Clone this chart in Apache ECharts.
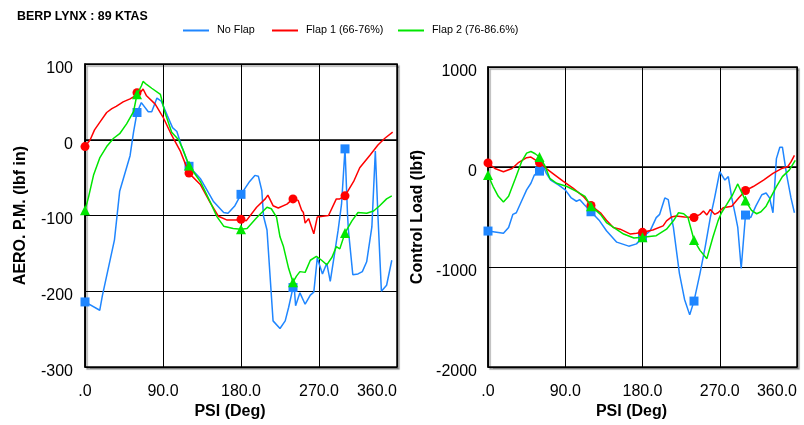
<!DOCTYPE html>
<html>
<head>
<meta charset="utf-8">
<script src="https://cdn.jsdelivr.net/npm/echarts@6/dist/echarts.min.js"></script>
<style>
html,body{margin:0;padding:0;background:#fff;}
#chart{width:804px;height:425px;}
</style>
</head>
<body>
<div id="chart"></div>
<script>
// ---------- DATA ----------
const TITLE = 'BERP LYNX : 89 KTAS';
const SERIES_NAMES = ['No Flap', 'Flap 1 (66-76%)', 'Flap 2 (76-86.6%)'];
const PSI_TICKS = [0, 90, 180, 270, 360];
const MARKER_PSI = [0, 60, 120, 180, 240, 300];
const AERO_TICKS = [-300, -200, -100, 0, 100];
const LOAD_TICKS = [-2000, -1000, 0, 1000];

// Left chart: AERO. P.M. (lbf in)
const AERO_NOFLAP_PSI = [0,17,20,34,37,40,52,56,60,65,67,73,77,83,88,95,101,106,111,117,120,133,148,160,165,173,180,190,196,200,204,206,210,217,225,231,235,240,241,243,248,254,260,264,268,274,279,283,288,292,296,300,303,304,309,315,320,325,331,335,338,342,348,354];
const AERO_NOFLAP_VAL = [-214,-225,-206,-132,-100,-68,-21,10,36,49,50,37,37,55,51,32,16,11,-7,-25,-35,-51,-81,-96,-97,-87,-72,-55,-47,-48,-67,-101,-119,-239,-249,-239,-221,-195,-188,-219,-202,-217,-205,-201,-156,-177,-163,-187,-150,-120,-85,-12,-101,-120,-178,-177,-174,-161,-115,-15,-100,-200,-192,-159];

const AERO_FLAP1_PSI = [0,6,11,17,25,31,36,44,52,58,60,65,67,71,81,90,100,110,120,133,144,154,164,175,180,186,198,208,211,217,223,233,240,246,250,252,254,258,260,264,268,281,290,294,300,310,317,329,338,346,355];
const AERO_FLAP1_VAL = [-9,0,13,23,36,41,44,50,54,58,62,64,67,58,47,30,6,-15,-44,-59,-82,-101,-106,-106,-105,-107,-89,-78,-73,-87,-90,-85,-78,-80,-93,-96,-110,-104,-106,-124,-102,-100,-78,-78,-74,-55,-37,-20,-7,2,10];

const AERO_FLAP2_PSI = [0,4,10,17,25,33,40,48,56,60,65,67,71,77,87,92,100,108,113,120,133,144,152,160,171,180,187,198,210,215,221,225,229,235,240,244,248,254,260,267,273,279,285,290,294,300,308,315,325,333,340,348,354];
const AERO_FLAP2_VAL = [-93,-76,-46,-24,-9,2,8,21,37,60,71,77,73,68,60,37,10,0,-13,-34,-55,-81,-101,-114,-117,-118,-117,-103,-89,-91,-102,-128,-141,-170,-188,-180,-174,-175,-159,-154,-159,-165,-155,-141,-144,-123,-107,-96,-97,-94,-87,-78,-74];

// Right chart: Control Load (lbf)
const LOAD_NOFLAP_PSI = [0,18,24,29,33,39,45,50,54,60,64,68,73,82,90,97,103,107,112,120,130,138,150,164,173,180,189,196,200,206,210,213,216,223,229,235,240,247,253,259,264,270,276,280,284,288,291,295,300,306,312,319,324,328,332,336,340,343,348,353,357];
const LOAD_NOFLAP_VAL = [-640,-663,-604,-473,-457,-342,-228,-162,-80,-41,18,-64,-130,-179,-228,-309,-342,-326,-375,-447,-538,-637,-751,-791,-768,-705,-636,-506,-473,-309,-326,-473,-604,-1063,-1324,-1478,-1340,-1063,-800,-506,-309,-47,-130,-96,-309,-473,-604,-1013,-480,-506,-391,-277,-260,-309,-457,84,198,198,-80,-309,-457];

const LOAD_FLAP1_PSI = [0,8,18,28,35,45,50,56,60,68,78,87,99,111,120,131,138,146,154,166,173,180,192,204,208,214,219,229,240,247,251,255,259,264,268,274,284,292,300,309,321,332,342,349,353,357];
const LOAD_FLAP1_VAL = [41,-15,-47,-15,41,93,100,67,44,-15,-80,-139,-211,-293,-385,-457,-532,-604,-621,-670,-663,-653,-630,-588,-538,-499,-489,-499,-505,-473,-440,-479,-424,-473,-457,-408,-391,-309,-235,-195,-130,-64,-15,2,51,116];

const LOAD_FLAP2_PSI = [0,6,12,18,24,32,39,45,50,55,60,66,72,80,92,103,113,120,131,138,158,170,180,196,208,216,222,228,233,240,247,255,262,268,272,278,285,291,295,300,307,313,318,324,330,336,343,351,358];
const LOAD_FLAP2_VAL = [-80,-195,-293,-349,-293,-113,51,139,155,133,100,18,-113,-162,-195,-244,-293,-391,-473,-555,-670,-709,-702,-686,-621,-538,-457,-467,-506,-730,-833,-916,-702,-538,-457,-375,-277,-169,-244,-335,-434,-467,-447,-391,-293,-195,-96,-31,67];

// ---------- STYLE ----------
const COLORS = ['#1f86ff', '#ff0000', '#00e600'];
const SYMBOLS = ['rect', 'circle', 'triangle'];
const SYMBOL_SIZES = [9, 9, 10];
const FONT = "'Liberation Sans', Arial, sans-serif";

function zip(xs, ys) { return xs.map((x, i) => [x, ys[i]]); }

function makeSeries(idx, grid, psi, vals) {
  return {
    name: SERIES_NAMES[idx],
    type: 'line',
    xAxisIndex: grid, yAxisIndex: grid,
    data: zip(psi, vals),
    color: COLORS[idx],
    lineStyle: { width: 1.5, color: COLORS[idx] },
    itemStyle: { color: COLORS[idx], borderWidth: 0 },
    symbol: SYMBOLS[idx],
    showSymbol: true,
    showAllSymbol: true,
    symbolSize: function (v) { return MARKER_PSI.indexOf(v[0]) >= 0 ? SYMBOL_SIZES[idx] : 0; },
    emphasis: { disabled: true },
    animation: false,
    z: 2 + idx
  };
}

function xAxisDef(gridIndex) {
  return {
    type: 'value', gridIndex: gridIndex, min: PSI_TICKS[0], max: PSI_TICKS[PSI_TICKS.length - 1], interval: 90,
    name: 'PSI (Deg)', nameLocation: 'middle', nameGap: 35,
    nameTextStyle: { fontFamily: FONT, fontWeight: 'bold', fontSize: 16, color: '#000', padding: [0, 22, 0, 0] },
    axisLine: { show: true, lineStyle: { color: '#000', width: 1.5 } },
    axisTick: { show: false },
    axisLabel: {
      fontFamily: FONT, fontSize: 16, color: '#000', margin: 16,
      alignMaxLabel: 'right',
      formatter: function (v) { return v === 0 ? '.0' : v.toFixed(1); }
    },
    splitLine: { show: true, lineStyle: { color: '#000', width: 1 } }
  };
}

function yAxisDef(gridIndex, ticks, name, nameGap, margin) {
  return {
    type: 'value', gridIndex: gridIndex, min: ticks[0], max: ticks[ticks.length - 1], interval: ticks[1] - ticks[0],
    name: name, nameLocation: 'middle', nameGap: nameGap,
    nameTextStyle: { fontFamily: FONT, fontWeight: 'bold', fontSize: 16, color: '#000' },
    axisLine: { show: true, lineStyle: { color: '#000', width: 1.5 } },
    axisTick: { show: false },
    axisLabel: {
      fontFamily: FONT, fontSize: 16, color: '#000', margin: margin,
      verticalAlign: 'top', lineHeight: 9,
      formatter: function (v) { return String(v); }
    },
    splitLine: { show: true, lineStyle: { color: '#000', width: 1 } }
  };
}

const gridStyle = {
  show: true, backgroundColor: '#fff', borderColor: '#000', borderWidth: 1.5,
  shadowColor: 'rgba(0,0,0,0.35)', shadowBlur: 1, shadowOffsetX: 2, shadowOffsetY: 2
};

function legendDef(i, left) {
  return {
    data: [SERIES_NAMES[i]], left: left, top: 25, icon: 'rect', itemWidth: 26, itemHeight: 2, itemGap: 8,
    padding: 0, selectedMode: false,
    textStyle: { fontFamily: FONT, fontSize: 10.8, color: '#000', padding: [0, 0, 0, 3] }
  };
}

const option = {
  animation: false,
  backgroundColor: '#fff',
  title: {
    text: TITLE, left: 17, top: 11, padding: 0,
    textStyle: { fontFamily: FONT, fontWeight: 'bold', fontSize: 12.4, color: '#000' }
  },
  legend: [legendDef(0, 183), legendDef(1, 272), legendDef(2, 398)],
  grid: [
    Object.assign({ left: 85, top: 64, width: 312, height: 308 }, gridStyle),
    Object.assign({ left: 488, top: 67, width: 309, height: 305 }, gridStyle)
  ],
  xAxis: [xAxisDef(0), xAxisDef(1)],
  yAxis: [
    yAxisDef(0, AERO_TICKS, 'AERO. P.M. (lbf in)', 56, 12),
    yAxisDef(1, LOAD_TICKS, 'Control Load (lbf)', 62, 11)
  ],
  series: [
    makeSeries(0, 0, AERO_NOFLAP_PSI, AERO_NOFLAP_VAL),
    makeSeries(1, 0, AERO_FLAP1_PSI, AERO_FLAP1_VAL),
    makeSeries(2, 0, AERO_FLAP2_PSI, AERO_FLAP2_VAL),
    makeSeries(0, 1, LOAD_NOFLAP_PSI, LOAD_NOFLAP_VAL),
    makeSeries(1, 1, LOAD_FLAP1_PSI, LOAD_FLAP1_VAL),
    makeSeries(2, 1, LOAD_FLAP2_PSI, LOAD_FLAP2_VAL)
  ]
};

const chart = echarts.init(document.getElementById('chart'), null, { renderer: 'canvas' });
chart.setOption(option);
</script>
</body>
</html>
